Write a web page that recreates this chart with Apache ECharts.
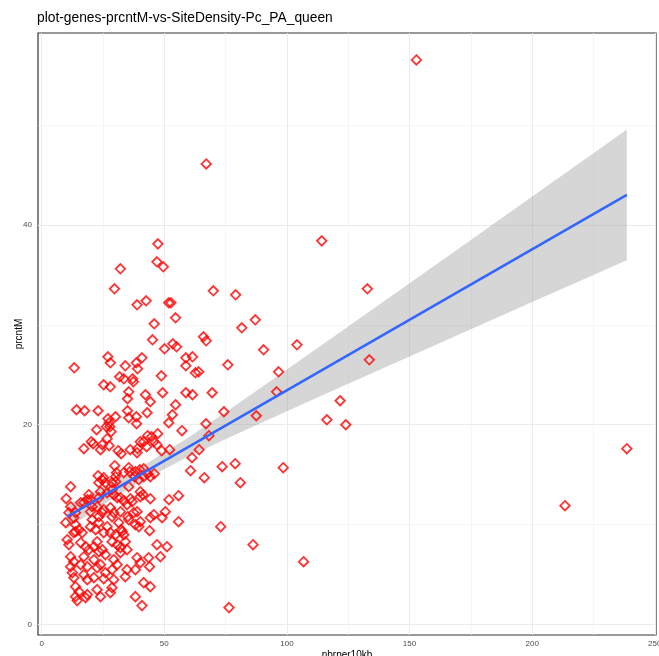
<!DOCTYPE html>
<html>
<head>
<meta charset="utf-8">
<title>plot-genes-prcntM-vs-SiteDensity-Pc_PA_queen</title>
<script src="https://cdn.jsdelivr.net/npm/echarts@6/dist/echarts.min.js"></script>
<style>
  html, body { margin: 0; padding: 0; background: #fff; }
  #chart { width: 659px; height: 656px; }
</style>
</head>
<body>
<div id="chart"></div>
<script>
// x = nbrper10kb, y = prcntM
const points = [
  [152.8,56.5],[67.1,46.1],[114.2,38.4],[47.4,38.1],[32.1,35.6],[47.0,36.3],[49.6,35.8],
  [70.0,33.4],[79.1,33.0],[132.8,33.6],[29.7,33.6],[42.6,32.4],[51.8,32.2],[52.7,32.2],
  [38.9,32.0],[81.6,29.7],[87.1,30.5],[54.6,30.7],[45.9,30.1],[66.0,28.8],[67.1,28.4],
  [104.1,28.0],[45.2,28.5],[50.1,27.6],[53.5,28.1],[55.0,27.8],[90.5,27.5],[58.8,26.7],
  [61.5,26.8],[27.0,26.8],[28.0,26.2],[133.6,26.5],[75.9,26.0],[13.3,25.7],[62.7,25.2],
  [64.0,25.3],[96.6,25.3],[58.8,25.9],[48.8,24.9],[40.9,26.7],[38.6,26.2],[39.1,25.6],
  [34.1,25.9],[31.8,24.8],[33.5,24.6],[37.1,24.6],[37.4,24.3],[25.3,24.0],[28.0,23.8],
  [49.3,23.2],[58.8,23.2],[61.5,23.0],[69.5,23.2],[95.8,23.3],[121.7,22.4],[42.3,23.0],
  [44.3,22.3],[35.5,23.3],[35.0,22.6],[54.6,22.0],[74.3,21.3],[14.2,21.5],[17.5,21.4],
  [23.0,21.4],[35.0,21.4],[43.0,21.2],[116.3,20.5],[124.0,20.0],[87.5,20.9],[35.5,20.7],
  [38.6,20.8],[38.7,20.1],[27.0,20.6],[27.5,20.2],[27.8,19.8],[26.4,19.8],[30.1,20.8],
  [53.3,21.0],[51.8,20.2],[67.0,20.1],[57.2,19.4],[68.2,18.9],[22.4,19.5],[28.3,19.3],
  [26.7,18.6],[20.2,18.3],[21.0,18.1],[24.7,18.0],[24.0,17.5],[17.2,17.6],[27.5,17.9],
  [31.2,17.4],[32.4,17.1],[36.1,17.5],[39.1,17.6],[38.9,17.2],[42.8,17.8],[43.2,18.9],
  [40.2,18.3],[41.6,18.3],[44.8,18.8],[47.3,19.1],[45.7,18.3],[47.0,18.0],[48.9,17.4],
  [52.2,17.5],[64.2,17.5],[61.3,16.7],[60.7,15.4],[66.3,14.7],[73.6,15.8],[78.9,16.1],
  [81.0,14.2],[98.5,15.7],[238.6,17.6],[213.4,11.9],[55.8,12.9],[55.8,10.3],[73.0,9.8],
  [86.2,8.0],[106.8,6.3],[76.4,1.7],
  [29.8,15.9],[30.5,15.2],[35.5,15.7],[35.9,15.3],[40.0,15.5],[41.6,15.6],[37.9,14.8],
  [39.6,14.5],[43.2,15.1],[44.3,14.8],[45.9,15.1],[35.5,13.8],[23.0,14.9],[24.7,14.5],
  [23.3,14.2],[26.0,14.2],[11.8,13.8],[30.2,14.3],
  [28.7,14.2],[10.0,12.6],[11.8,11.8],[17.2,12.2],[19.9,12.5],[20.6,11.8],[24.0,13.3],
  [28.7,13.5],[29.4,13.0],[32.1,12.7],[33.5,12.4],[36.2,12.6],[40.2,13.3],[41.3,13.0],
  [44.3,12.6],[51.9,12.5],[50.4,11.3],[49.1,10.7],[45.7,11.0],[44.3,10.7],[40.2,10.3],
  [39.6,9.8],[44.0,9.4],[37.5,11.2],[35.1,10.8],[32.1,11.3],[29.4,11.2],[24.7,11.2],
  [23.3,10.8],[13.8,10.0],[15.2,9.5],[13.1,9.2],[19.9,9.8],[22.0,9.5],[26.7,9.8],
  [28.0,9.2],[32.4,9.5],[33.5,9.0],[10.4,8.5],[11.1,8.0],[15.9,8.2],[17.9,7.8],
  [19.2,7.5],[22.6,8.3],[21.3,7.8],[23.3,7.3],[28.7,8.3],[30.8,8.0],[32.1,7.7],
  [34.1,8.3],[34.8,7.5],[32.1,7.2],[24.7,7.5],[26.0,7.0],[47.0,8.0],[51.1,7.8],
  [48.4,6.8],[38.9,6.7],[40.2,6.2],[43.6,6.7],[44.0,5.8],[11.8,6.8],[13.1,6.3],
  [11.8,5.8],[17.2,6.8],[15.9,6.0],[18.6,5.8],[21.3,6.5],[22.6,5.7],[24.0,6.0],
  [29.4,6.5],[30.8,6.0],[28.7,5.5],[34.8,5.5],[34.1,4.8],[12.5,5.2],[13.1,4.7],
  [17.2,5.0],[18.6,4.5],[21.3,4.7],[26.0,5.2],[25.3,4.6],[29.4,4.5],[13.8,3.8],
  [15.2,3.3],[13.8,2.8],[14.5,2.4],[18.6,3.0],[17.9,2.7],[22.6,3.5],[24.0,2.8],
  [28.7,3.7],[28.0,3.2],[38.2,2.8],[40.9,1.9],[41.6,4.2],[44.3,3.8],[38.2,5.5],
  [11.1,11.2],[13.1,10.7],[9.8,10.2],
  [25.3,14.7],[30.1,14.8],[33.5,15.2],[38.2,15.3],[19.2,13.0],[18.6,12.5],[15.9,12.2],
  [23.3,12.7],[26.7,13.2],[30.8,12.7],[34.8,12.0],[36.9,12.3],[40.2,12.8],[41.6,14.8],
  [13.8,11.2],[19.9,11.3],[22.6,11.8],[25.3,11.5],[28.0,11.7],[38.9,11.3],[20.6,10.5],
  [23.3,10.2],[28.7,10.8],[31.4,10.2],[35.5,10.5],[38.2,10.0],[13.8,9.3],[16.5,9.2],
  [25.3,9.2],[30.1,9.0],[32.8,9.3]
];

// linear fit and its confidence band
const fitLine = [[10.4, 10.8], [238.6, 43.0]];
const bandX = [10.4, 25, 40, 60, 80, 100, 125, 150, 175, 200, 225, 238.6];
const bandLower = [9.6, 12.0, 14.27, 16.84, 19.13, 21.35, 24.10, 26.82, 29.55, 32.27, 34.99, 36.45];
const bandUpper = [12.0, 13.72, 15.69, 18.76, 22.11, 25.53, 29.84, 34.16, 38.49, 42.83, 47.17, 49.55];

const xMajor = [0, 50, 100, 150, 200, 250];
const xMinor = [25, 75, 125, 175, 225];
const yMajor = [0, 20, 40];
const yMinor = [10, 30, 50];

const chart = echarts.init(document.getElementById('chart'));

const minorStyle = { color: '#f2f2f2', width: 0.7, type: 'solid' };
const majorStyle = { color: '#ebebeb', width: 1, type: 'solid' };
const gridLines = [
  ...xMinor.map(v => ({ xAxis: v, lineStyle: minorStyle })),
  ...yMinor.map(v => ({ yAxis: v, lineStyle: minorStyle })),
  ...xMajor.map(v => ({ xAxis: v, lineStyle: majorStyle })),
  ...yMajor.map(v => ({ yAxis: v, lineStyle: majorStyle }))
];

const font = 'Liberation Sans, Arial, sans-serif';

// confidence ribbon as one polygon through the axis scales
function renderBand(params, api) {
  if (params.dataIndex !== 0) return;
  const top = bandX.map((x, i) => api.coord([x, bandUpper[i]]));
  const bottom = bandX.map((x, i) => api.coord([x, bandLower[i]])).reverse();
  return {
    type: 'polygon',
    shape: { points: top.concat(bottom) },
    style: { fill: 'rgba(153,153,153,0.4)' }
  };
}

const option = {
  animation: false,
  title: {
    text: 'plot-genes-prcntM-vs-SiteDensity-Pc_PA_queen',
    left: 37,
    top: 11,
    padding: 0,
    textStyle: { fontFamily: font, fontSize: 13.8, fontWeight: 'normal', color: '#000' }
  },
  grid: {
    left: 38,
    right: 3,
    top: 33,
    bottom: 21,
    containLabel: false,
    outerBoundsMode: 'none',
    show: true,
    borderColor: '#333',
    borderWidth: 1.2,
    backgroundColor: '#fff'
  },
  xAxis: {
    type: 'value',
    min: -1.5,
    max: 250.5,
    name: 'nbrper10kb',
    nameLocation: 'middle',
    nameGap: 15,
    nameMoveOverlap: false,
    nameTextStyle: { fontFamily: font, fontSize: 10, color: '#000' },
    axisLine: { show: false },
    splitLine: { show: false },
    axisTick: { show: true, customValues: xMajor, length: 3, lineStyle: { color: '#333' } },
    axisLabel: { customValues: xMajor, fontFamily: font, fontSize: 8, color: '#4d4d4d', margin: 5 }
  },
  yAxis: {
    type: 'value',
    min: -1.04,
    max: 59.2,
    name: 'prcntM',
    nameLocation: 'middle',
    nameRotate: 90,
    nameGap: 14,
    nameMoveOverlap: false,
    nameTextStyle: { fontFamily: font, fontSize: 10, color: '#000' },
    axisLine: { show: false },
    splitLine: { show: false },
    axisTick: { show: true, customValues: yMajor, length: 3, lineStyle: { color: '#333' } },
    axisLabel: { customValues: yMajor, fontFamily: font, fontSize: 8, color: '#4d4d4d', margin: 6 }
  },
  series: [
    {
      name: 'grid',
      type: 'scatter',
      z: 1,
      silent: true,
      data: [],
      markLine: {
        z: 1,
        silent: true,
        symbol: ['none', 'none'],
        label: { show: false },
        animation: false,
        data: gridLines
      }
    },
    {
      name: 'band',
      type: 'custom',
      z: 2,
      silent: true,
      renderItem: renderBand,
      data: bandX.map((x, i) => [x, bandLower[i], bandUpper[i]])
    },
    {
      name: 'points',
      type: 'scatter',
      z: 3,
      symbol: 'diamond',
      symbolSize: 9.5,
      itemStyle: { color: 'rgba(0,0,0,0)', borderColor: '#ff0000', borderWidth: 1.8 },
      data: points
    },
    {
      name: 'fit',
      type: 'line',
      z: 4,
      symbol: 'none',
      lineStyle: { color: '#3366ff', width: 2.5 },
      data: fitLine
    }
  ]
};

chart.setOption(option);
</script>
</body>
</html>
